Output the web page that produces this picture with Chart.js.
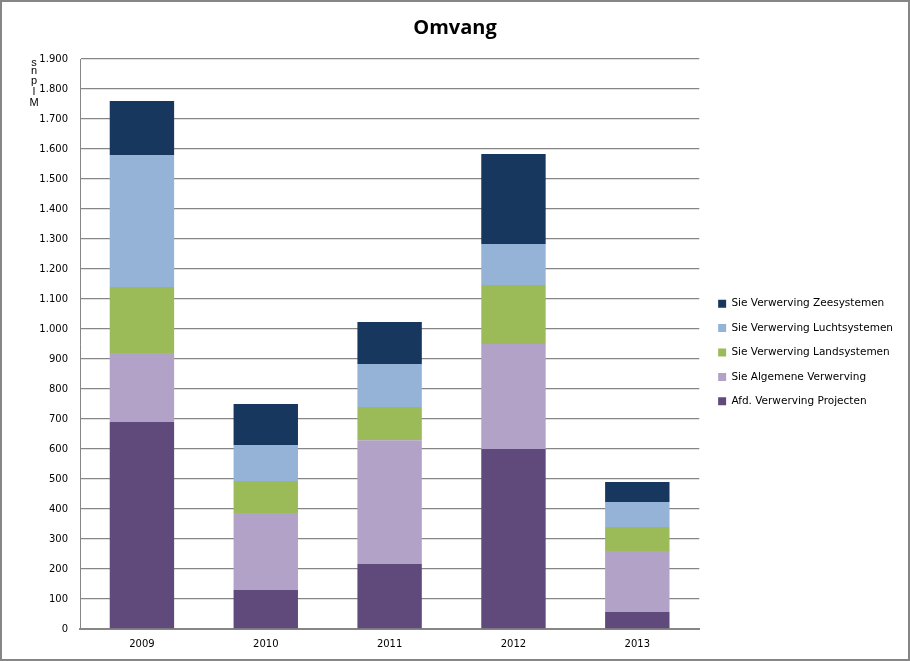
<!DOCTYPE html>
<html>
<head>
<meta charset="utf-8">
<script src="https://cdn.jsdelivr.net/npm/chart.js@4/dist/chart.umd.min.js"></script>
<style>
html,body{margin:0;padding:0;background:#fff;}
#wrap{width:910px;height:661px;position:relative;}
</style>
</head>
<body>
<div id="wrap"><canvas id="c" width="910" height="661"></canvas></div>
<script>
const categories = ['2009','2010','2011','2012','2013'];
const afdProjecten = [690, 130, 217, 600, 57];
const algemene = [230, 257, 412, 350, 203];
const landsystemen = [220, 106, 111, 197, 80];
const luchtsystemen = [440, 120, 143, 136, 83];
const zeesystemen = [180, 137, 140, 300, 67];
const seriesNames = ['Afd. Verwerving Projecten','Sie Algemene Verwerving','Sie Verwerving Landsystemen','Sie Verwerving Luchtsystemen','Sie Verwerving Zeesystemen'];
const yAxisTitleChars = ['s','n','p','l','M'];
const chartTitle = 'Omvang';

const colors = ['#604A7B','#B3A2C7','#9BBB59','#95B3D7','#17375E'];
const seriesData = [afdProjecten, algemene, landsystemen, luchtsystemen, zeesystemen];

function fmt(v){
  const s = String(Math.round(v));
  return s.replace(/\B(?=(\d{3})+(?!\d))/g, '.');
}

const extras = {
  id: 'extras',
  afterLayout(chart){
    if (chart.legend) { chart.legend.left += 5; chart.legend.right += 5; }
  },
  afterDraw(chart){
    const ctx = chart.ctx;
    ctx.save();
    ctx.strokeStyle = '#868686';
    ctx.lineWidth = 2;
    ctx.strokeRect(1, 1, 908, 659);
    ctx.fillStyle = '#000';
    ctx.font = '11px "Liberation Sans", sans-serif';
    ctx.textAlign = 'center';
    ctx.textBaseline = 'middle';
    const ys = [63, 71, 81, 92, 103];
    yAxisTitleChars.forEach((ch, i) => {
      ctx.fillText(ch, 34, ys[i]);
    });
    ctx.restore();
  }
};

new Chart(document.getElementById('c'), {
  type: 'bar',
  data: {
    labels: categories,
    datasets: seriesData.map((d, i) => ({
      label: seriesNames[i],
      data: d,
      backgroundColor: colors[i],
      borderWidth: 0,
      barPercentage: 0.52,
      categoryPercentage: 1.0
    }))
  },
  options: {
    responsive: false,
    animation: false,
    devicePixelRatio: 1,
    layout: { padding: { left: 12, right: 12, top: 0, bottom: 2 } },
    plugins: {
      title: {
        display: true,
        text: chartTitle,
        color: '#000',
        font: { family: '"Open Sans", sans-serif', size: 20, weight: 'bold' },
        padding: { top: 16, bottom: 19 }
      },
      legend: {
        position: 'right',
        reverse: true,
        title: { display: true, text: ' ', font: { size: 10 }, padding: { top: 17, bottom: 17 } },
        labels: {
          boxWidth: 8,
          boxHeight: 8,
          padding: 13.9,
          color: '#000',
          font: { family: '"DejaVu Sans", sans-serif', size: 10.5 }
        }
      },
      tooltip: { enabled: false }
    },
    scales: {
      x: {
        stacked: true,
        grid: { display: false, drawTicks: false },
        border: { display: true, color: '#868686', width: 2 },
        ticks: { color: '#000', font: { family: '"DejaVu Sans", sans-serif', size: 10 }, padding: 9 }
      },
      y: {
        stacked: true,
        min: 0,
        max: 1900,
        afterFit(scale){ scale.width = 68; },
        grid: { color: '#868686', lineWidth: 1.3, drawTicks: false },
        border: { display: true, color: '#868686', width: 1 },
        ticks: {
          stepSize: 100,
          color: '#000',
          padding: 12,
          font: { family: '"DejaVu Sans", sans-serif', size: 10 },
          callback: (v) => fmt(v)
        }
      }
    }
  },
  plugins: [extras]
});
</script>
</body>
</html>
